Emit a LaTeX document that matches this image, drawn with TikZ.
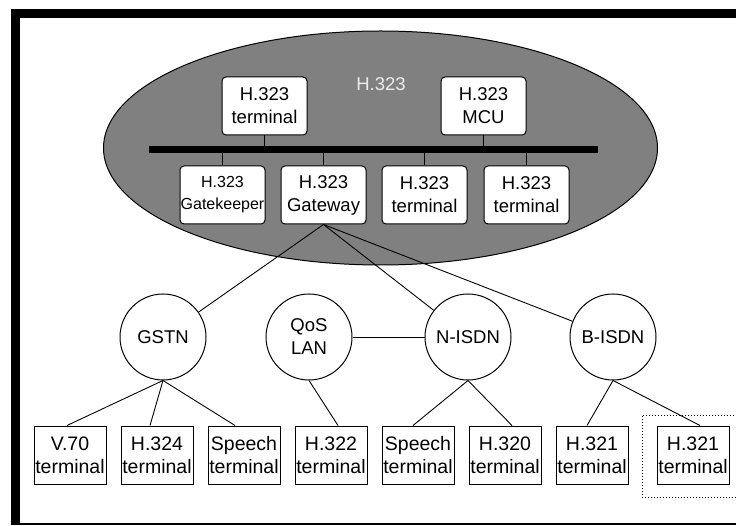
\documentclass[tikz,border=0pt]{standalone}
\usepackage{fontspec}
\setmainfont{Liberation Sans}
\begin{document}
\begin{tikzpicture}[x=1pt,y=-1pt,
  every node/.style={inner sep=0pt},
  line/.style={draw=black,line width=0.9pt},
  rbox/.style={draw=black,line width=1pt,fill=white,rounded corners=4pt,
    minimum width=85pt,minimum height=58pt,align=center,
    font=\fontsize{18.5}{23}\selectfont},
  smallrbox/.style={rbox,font=\fontsize{16}{22}\selectfont},
  net/.style={circle,draw=black,line width=1pt,fill=white,minimum size=86pt,
    align=center,font=\fontsize{18.5}{23}\selectfont},
  tbox/.style={draw=black,line width=1pt,fill=white,
    minimum width=72pt,minimum height=58pt,align=center,
    font=\fontsize{19.5}{23}\selectfont}]
\useasboundingbox (0,0) rectangle (736,526);
\fill[white] (0,0) rectangle (736,526);
% outer frame
\fill[black] (11,9) rectangle (736,18);
\fill[black] (11,9) rectangle (20,525);
\draw[line width=1.5pt] (11,524) -- (736,524);
% H.323 zone
\draw[line width=1pt,fill=black!50] (380.5,148) ellipse [x radius=277,y radius=117];
\node[text=white!92!black,font=\fontsize{18.5}{23}\selectfont] (zone) at (381,84) {H.323};
% bus
\coordinate (busL) at (149,150);
\coordinate (busR) at (598,150);
\draw[line width=7pt] (busL) -- (busR);
\node[rbox] (t1) at (264.5,106) {H.323\\terminal};
\node[rbox] (mcu) at (483.5,106) {H.323\\MCU};
\node[smallrbox] (gk) at (222.5,195) {H.323\\Gatekeeper};
\node[rbox] (gw) at (323.5,195) {H.323\\Gateway};
\node[rbox] (t2) at (424.5,195) {H.323\\terminal};
\node[rbox] (t3) at (526.5,195) {H.323\\terminal};
\foreach \n in {t1,mcu} \draw[line] (\n.south) -- (\n.south |- busL);
\foreach \n in {gk,gw,t2,t3} \draw[line] (\n.north |- busL) -- (\n.north);
% networks
\node[net] (gstn) at (163,337) {GSTN};
\node[net] (qos) at (309,337) {QoS\\LAN};
\node[net] (nisdn) at (468,337) {N-ISDN};
\node[net] (bisdn) at (613,337) {B-ISDN};
\draw[line] (gw.south) -- (gstn);
\draw[line] (gw.south) -- (nisdn);
\draw[line] (gw.south) -- (bisdn);
\draw[line] (qos) -- (nisdn);
% terminals
\node[draw=black,dotted,line width=1pt,minimum width=110pt,minimum height=82pt] (grp) at (697,456) {};
\node[tbox] (v70) at (70,455) {V.70\\terminal};
\node[tbox] (h324) at (157,455) {H.324\\terminal};
\node[tbox] (sp1) at (244,455) {Speech\\terminal};
\node[tbox] (h322) at (331,455) {H.322\\terminal};
\node[tbox] (sp2) at (418,455) {Speech\\terminal};
\node[tbox] (h320) at (505,455) {H.320\\terminal};
\node[tbox] (h321a) at (592,455) {H.321\\terminal};
\node[tbox] (h321b) at (693,455) {H.321\\terminal};
\draw[line] (gstn.south) -- ([xshift=-3pt]v70.north);
\draw[line] (gstn.south) -- ([xshift=-7pt]h324.north);
\draw[line] (gstn.south) -- ([xshift=-9pt]sp1.north);
\draw[line] (qos.south) -- ([xshift=7pt]h322.north);
\draw[line] (nisdn.south) -- ([xshift=-5pt]sp2.north);
\draw[line] (nisdn.south) -- ([xshift=7pt]h320.north);
\draw[line] (bisdn.south) -- ([xshift=-5pt]h321a.north);
\draw[line] (bisdn.south) -- ([xshift=7pt]h321b.north);
\end{tikzpicture}
\end{document}
